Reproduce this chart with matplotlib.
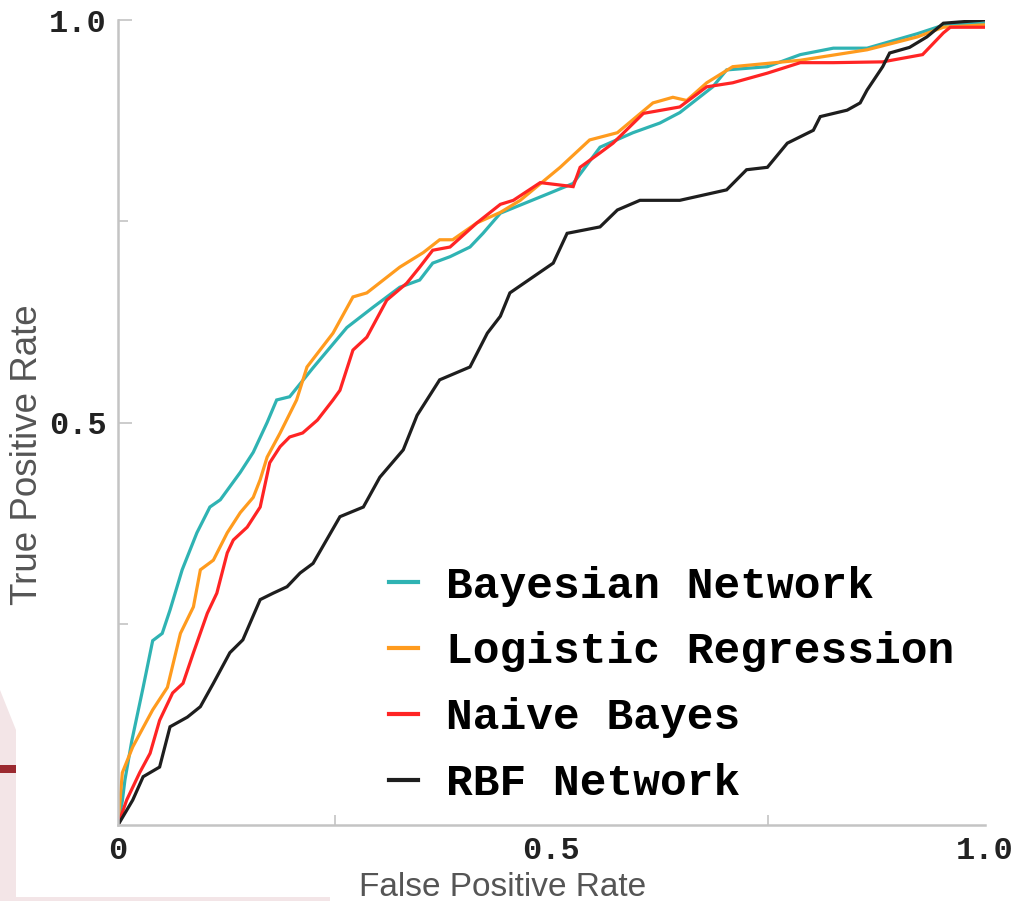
import numpy as np
import matplotlib.pyplot as plt
from matplotlib.patches import Polygon, Rectangle

# ROC curves (false positive rate, true positive rate)
bayes_fpr = [0, 0.005, 0.008, 0.016, 0.029, 0.04, 0.051, 0.06, 0.074, 0.091, 0.106, 0.118,
             0.141, 0.156, 0.172, 0.183, 0.198, 0.225, 0.264, 0.294, 0.325, 0.348, 0.363,
             0.383, 0.406, 0.421, 0.441, 0.498, 0.525, 0.556, 0.594, 0.625, 0.648, 0.686,
             0.702, 0.749, 0.787, 0.825, 0.864, 0.922, 0.956, 1.0]
bayes_tpr = [0, 0.03, 0.056, 0.105, 0.171, 0.229, 0.238, 0.267, 0.317, 0.363, 0.395, 0.404,
             0.438, 0.463, 0.5, 0.528, 0.532, 0.568, 0.618, 0.643, 0.668, 0.677, 0.698,
             0.706, 0.718, 0.735, 0.76, 0.785, 0.797, 0.842, 0.86, 0.872, 0.885, 0.917,
             0.938, 0.942, 0.957, 0.965, 0.965, 0.983, 0.995, 0.996]

logit_fpr = [0, 0.005, 0.017, 0.04, 0.057, 0.072, 0.087, 0.095, 0.11, 0.126, 0.141, 0.156,
             0.164, 0.172, 0.187, 0.206, 0.218, 0.248, 0.271, 0.287, 0.306, 0.325, 0.352,
             0.371, 0.386, 0.414, 0.441, 0.464, 0.51, 0.544, 0.576, 0.617, 0.64, 0.656,
             0.679, 0.709, 0.787, 0.864, 0.922, 0.952, 1.0]
logit_tpr = [0, 0.065, 0.097, 0.143, 0.171, 0.238, 0.271, 0.317, 0.329, 0.363, 0.388, 0.407,
             0.429, 0.457, 0.487, 0.528, 0.569, 0.611, 0.656, 0.661, 0.677, 0.693, 0.711,
             0.727, 0.727, 0.748, 0.761, 0.776, 0.817, 0.851, 0.86, 0.897, 0.904, 0.9,
             0.922, 0.942, 0.95, 0.963, 0.979, 0.991, 0.994]

nb_fpr = [0, 0.01, 0.025, 0.037, 0.048, 0.063, 0.075, 0.087, 0.103, 0.114, 0.126, 0.133,
          0.149, 0.164, 0.175, 0.187, 0.198, 0.213, 0.23, 0.248, 0.256, 0.271, 0.287, 0.31,
          0.333, 0.348, 0.363, 0.383, 0.414, 0.441, 0.456, 0.487, 0.525, 0.533, 0.556,
          0.571, 0.606, 0.648, 0.679, 0.709, 0.749, 0.787, 0.825, 0.882, 0.928, 0.952,
          0.96, 1.0]
nb_tpr = [0, 0.031, 0.065, 0.089, 0.13, 0.164, 0.176, 0.214, 0.263, 0.288, 0.338, 0.354,
          0.37, 0.395, 0.45, 0.47, 0.482, 0.487, 0.503, 0.528, 0.54, 0.59, 0.606, 0.652,
          0.673, 0.693, 0.714, 0.718, 0.748, 0.771, 0.776, 0.798, 0.793, 0.817, 0.835,
          0.847, 0.884, 0.892, 0.917, 0.922, 0.934, 0.947, 0.947, 0.948, 0.957, 0.984,
          0.991, 0.991]

rbf_fpr = [0, 0.017, 0.029, 0.048, 0.06, 0.08, 0.095, 0.11, 0.129, 0.144, 0.164, 0.179,
           0.195, 0.21, 0.225, 0.256, 0.283, 0.302, 0.329, 0.345, 0.371, 0.406, 0.426,
           0.441, 0.452, 0.479, 0.502, 0.518, 0.556, 0.576, 0.602, 0.648, 0.702, 0.725,
           0.749, 0.772, 0.802, 0.81, 0.841, 0.856, 0.864, 0.882, 0.89, 0.913, 0.933,
           0.952, 1.0]
rbf_tpr = [0, 0.031, 0.06, 0.072, 0.122, 0.134, 0.147, 0.176, 0.214, 0.23, 0.28, 0.288,
           0.296, 0.313, 0.325, 0.383, 0.395, 0.432, 0.466, 0.509, 0.553, 0.569, 0.611,
           0.632, 0.661, 0.681, 0.698, 0.735, 0.743, 0.764, 0.776, 0.776, 0.789, 0.814,
           0.817, 0.847, 0.863, 0.88, 0.888, 0.897, 0.913, 0.942, 0.959, 0.966, 0.979,
           0.996, 1.0]

labels = ['Bayesian Network', 'Logistic Regression', 'Naive Bayes', 'RBF Network']
colors = ['#2fb3b3', '#ff9b1e', '#ff2424', '#1e1e1e']

fig = plt.figure(figsize=(10.12, 9.01), dpi=100)
ax = fig.add_axes([118 / 1012, 1 - 825 / 901, 867 / 1012, 805 / 901])

curves = [(bayes_fpr, bayes_tpr), (logit_fpr, logit_tpr), (nb_fpr, nb_tpr), (rbf_fpr, rbf_tpr)]
for (fpr, tpr), lab, col in zip(curves, labels, colors):
    ax.plot(fpr, tpr, color=col, lw=2.3, label=lab, solid_joinstyle='miter')

ax.set_xlim(0, 1)
ax.set_ylim(0, 1)
for s in ['top', 'right']:
    ax.spines[s].set_visible(False)
for s in ['left', 'bottom']:
    ax.spines[s].set_color('#c4c4c4')
    ax.spines[s].set_linewidth(1.8)

mono = {'family': 'Liberation Mono', 'weight': 'bold', 'size': 23}
ax.set_xticks([0, 0.5, 1.0])
ax.set_xticklabels(['0', '0.5', '1.0'], fontdict=mono)
ax.set_yticks([0.5, 1.0])
ax.set_yticklabels(['0.5', '1.0'], fontdict=mono)
ax.set_xticks([0.25, 0.75], minor=True)
ax.set_yticks([0.25, 0.75], minor=True)
ax.tick_params(axis='both', which='both', direction='in', color='#c4c4c4', width=1.2)
ax.tick_params(axis='both', which='major', length=10, pad=8)
ax.tick_params(axis='both', which='minor', length=7)
ax.tick_params(axis='x', which='major', length=0)
for lbl in ax.get_xticklabels() + ax.get_yticklabels():
    lbl.set_color('#222222')

ax.set_xlabel('False Positive Rate', family='Liberation Sans', fontsize=24,
              color='#555555')
ax.set_ylabel('True Positive Rate', family='Liberation Sans', fontsize=26.5,
              color='#555555')
ax.xaxis.set_label_coords(0.443, -0.058)
ax.yaxis.set_label_coords(-0.084, 0.46)

leg = ax.legend(loc='upper left', bbox_to_anchor=(0.266, 0.372), frameon=False,
                prop={'family': 'Liberation Mono', 'weight': 'bold', 'size': 32},
                handlelength=0.65, handletextpad=0.65, labelspacing=0.56)
for h in leg.get_lines():
    h.set_linewidth(3)

# page remnants around the cropped chart
pink = '#f3e5e7'
fig.patches.append(Polygon([[0, 1 - 690 / 901], [16 / 1012, 1 - 730 / 901],
                            [16 / 1012, 0], [0, 0]], closed=True,
                           transform=fig.transFigure, facecolor=pink, edgecolor='none'))
fig.patches.append(Rectangle((0, 0), 330 / 1012, 4 / 901, transform=fig.transFigure,
                             facecolor=pink, edgecolor='none'))
fig.patches.append(Rectangle((0, 1 - 773 / 901), 16 / 1012, 8 / 901,
                             transform=fig.transFigure, facecolor='#9b2a30',
                             edgecolor='none'))

fig.savefig('out.png', dpi=100)
